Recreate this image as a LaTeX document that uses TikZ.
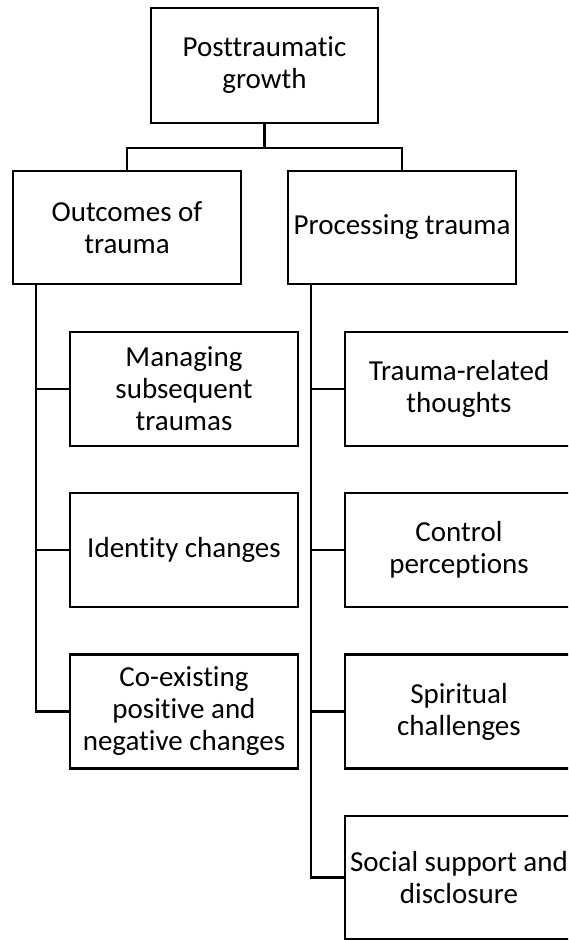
\documentclass[tikz,border=0pt]{standalone}
\usepackage{fontspec}
\setmainfont{Carlito}[Ligatures=NoCommon]
\usetikzlibrary{positioning, calc}

\begin{document}
\begin{tikzpicture}[x=1pt, y=-1pt,
    box/.style={draw, line width=2.5pt, minimum width=228pt, minimum height=114pt,
        inner sep=0pt, align=center, font=\fontsize{29}{32}\selectfont},
    link/.style={line width=2.3pt}]
\useasboundingbox (0,0) rectangle (568,940);
\clip (0,0) rectangle (568,940);
\node[box, minimum width=227pt, minimum height=115pt] (root) at (264.5,65.5) {Posttraumatic\\growth};
\node[box, minimum height=113pt] (outc) at (127,227.5) {Outcomes of\\trauma};
\node[box, minimum height=113pt] (proc) at (402,227.5) {Processing trauma};
\node[box] (manage)  at (184,389)   {Managing\\subsequent\\traumas};
\node[box] (ident)   at (184,550)   {Identity changes};
\node[box] (coex)    at (184,711.5) {Co-existing\\positive and\\negative changes};
\node[box] (thought) at (459,389)   {Trauma-related\\thoughts};
\node[box] (control) at (459,550)   {Control\\perceptions};
\node[box] (spirit)  at (459,711.5) {Spiritual\\challenges};
\node[box, minimum height=123pt] (social) at (459,877.5) {Social support and\\disclosure};
\coordinate (fork) at ($(root.south)+(0,23.5)$);
\coordinate (lanel) at (36,0);
\coordinate (laner) at (311,0);
\draw[link] (root.south) -- (fork) -| (outc.north);
\draw[link] (fork) -| (proc.north);
\draw[link] (outc.south -| lanel) |- (coex.west);
\foreach \n in {manage, ident}
    \draw[link] (\n.west -| lanel) -- (\n.west);
\draw[link] (proc.south -| laner) |- (social.west);
\foreach \n in {thought, control, spirit}
    \draw[link] (\n.west -| laner) -- (\n.west);
\end{tikzpicture}
\end{document}
